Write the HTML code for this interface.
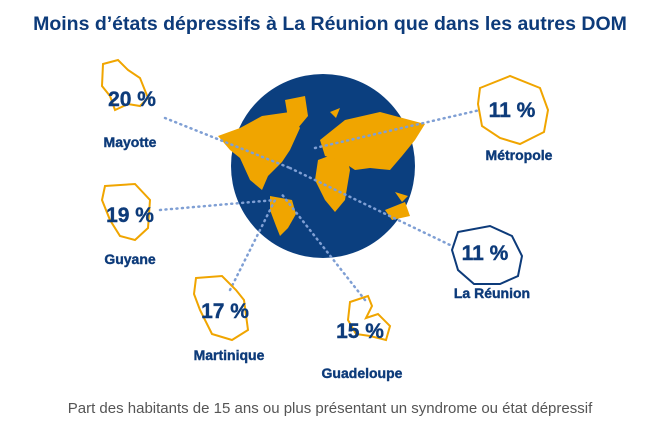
<!DOCTYPE html>
<html><head><meta charset="utf-8"><style>
body{margin:0;width:660px;height:436px;background:#fff;overflow:hidden;font-family:"Liberation Sans",sans-serif;}
svg{position:absolute;left:0;top:0}
</style></head><body>
<svg width="660" height="436" viewBox="0 0 660 436">
<text x="330" y="30" text-anchor="middle" font-family="Liberation Sans" font-weight="bold" font-size="19.5" fill="#0d3b7a">Moins d’états dépressifs à La Réunion que dans les autres DOM</text>
<circle cx="323" cy="166" r="92" fill="#0b3f7f"/>
<g fill="#f0a500">
<path d="M218,136 L240,128 L262,116 L290,112 L300,128 L290,150 L282,162 L268,176 L262,190 L250,180 L240,158 L230,150 Z"/>
<path d="M270,196 L292,200 L296,214 L288,228 L280,236 L276,226 L270,210 Z"/>
<path d="M285,100 L305,96 L308,116 L298,128 L288,118 Z"/>
<path d="M318,160 L345,150 L350,170 L345,200 L335,212 L325,200 L315,180 Z"/>
<path d="M320,140 L345,120 L380,112 L425,124 L415,140 L402,156 L390,170 L370,168 L355,170 L340,160 L325,156 Z"/>
<path d="M385,210 L405,202 L410,216 L392,220 Z"/>
<path d="M395,192 L408,196 L402,202 Z"/>
<path d="M330,112 L340,108 L336,118 Z"/>
</g>
<g stroke="#7f9fd4" stroke-width="2.5" stroke-dasharray="1 4.5" stroke-linecap="round" fill="none">
<line x1="165" y1="118" x2="290" y2="168"/>
<line x1="290" y1="168" x2="450" y2="245"/>
<line x1="160" y1="210" x2="275" y2="200"/>
<line x1="230" y1="290" x2="275" y2="200"/>
<line x1="365" y1="300" x2="280" y2="192"/>
<line x1="315" y1="148" x2="480" y2="110"/>
</g>
<g fill="none" stroke="#f0a500" stroke-width="2">
<path d="M103,64 L118,60 L128,70 L140,78 L148,98 L140,106 L128,104 L115,110 L110,96 L102,86 Z"/>
<path d="M105,186 L135,184 L150,200 L148,228 L135,240 L120,236 L110,220 L102,200 Z"/>
<path d="M480,88 L510,76 L540,88 L548,110 L544,132 L520,144 L500,138 L482,126 L478,104 Z"/>
<path d="M196,278 L222,276 L236,290 L244,300 L248,330 L232,340 L212,334 L200,310 L194,294 Z"/>
<path d="M350,302 L368,296 L372,306 L366,318 L378,314 L390,326 L386,340 L370,336 L356,334 L348,320 Z"/>
</g>
<path d="M458,232 L490,226 L512,236 L522,256 L518,276 L500,284 L474,284 L458,270 L452,250 Z" fill="none" stroke="#0d3b7a" stroke-width="2"/>
<g font-family="Liberation Sans" font-weight="bold" fill="#0d3b7a" text-anchor="middle" stroke="#0d3b7a" stroke-width="0.4">
<text x="132" y="106" font-size="21">20 %</text>
<text x="130" y="147" font-size="14">Mayotte</text>
<text x="130" y="222" font-size="21">19 %</text>
<text x="130" y="264" font-size="14">Guyane</text>
<text x="512" y="117" font-size="21">11 %</text>
<text x="519" y="160" font-size="14">Métropole</text>
<text x="485" y="260" font-size="21">11 %</text>
<text x="492" y="298" font-size="14">La Réunion</text>
<text x="225" y="318" font-size="21">17 %</text>
<text x="229" y="360" font-size="14">Martinique</text>
<text x="360" y="338" font-size="21">15 %</text>
<text x="362" y="378" font-size="14">Guadeloupe</text>
</g>
<text x="330" y="413" text-anchor="middle" font-family="Liberation Sans" font-size="15" fill="#555">Part des habitants de 15 ans ou plus présentant un syndrome ou état dépressif</text>
</svg>
</body></html>
